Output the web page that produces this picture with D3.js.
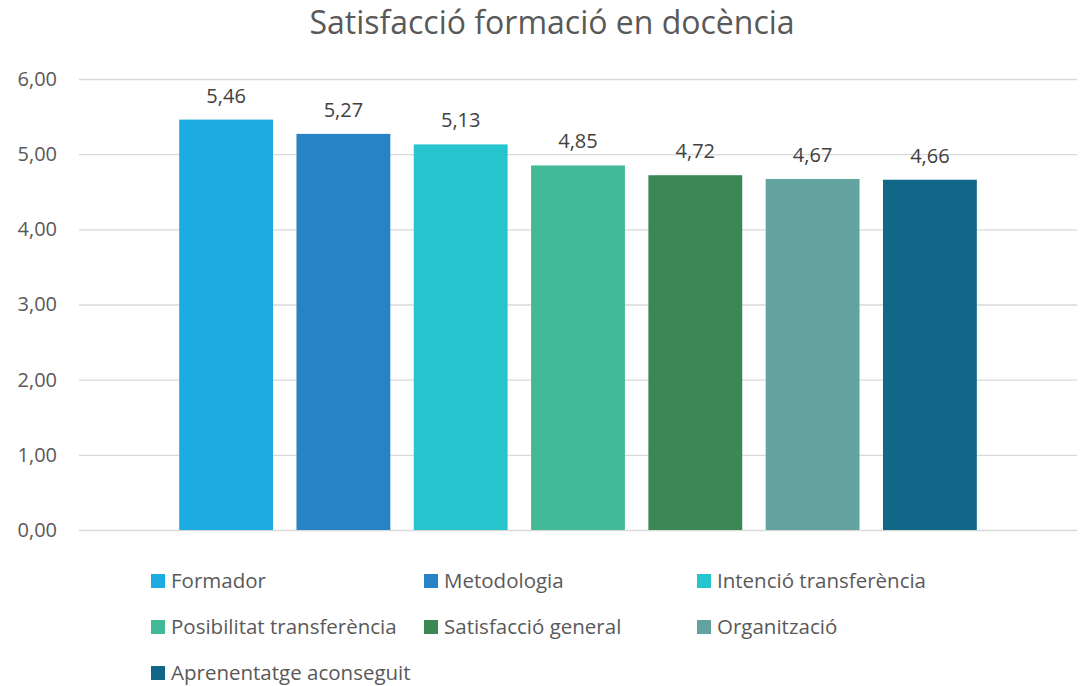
<!DOCTYPE html>
<html>
<head>
<meta charset="utf-8">
<script src="https://cdn.jsdelivr.net/npm/d3@7"></script>
<style>
  body { margin: 0; background: #fff; }
  svg { display: block; font-family: "Open Sans", sans-serif; }
</style>
</head>
<body>
<svg width="1082" height="686"></svg>
<script>
// Chart data
const categories = ["Formador", "Metodologia", "Intenció transferència", "Posibilitat transferència",
                    "Satisfacció general", "Organització", "Aprenentatge aconseguit"];
const values = [5.46, 5.27, 5.13, 4.85, 4.72, 4.67, 4.66];
const colors = ["#1dace2", "#2783c6", "#26c4cc", "#42ba97", "#3c8855", "#62a39f", "#106787"];
const yTicks = [0, 1, 2, 3, 4, 5, 6];
const title = "Satisfacció formació en docència";

const svg = d3.select("svg");
const plot = { left: 79, right: 1077, top: 79, bottom: 530 };

const fmt = d => d.toFixed(2).replace(".", ",");

// Scales
const xScale = d3.scaleBand()
                 .domain(categories)
                 .range([plot.left, plot.right])
                 .paddingInner(0.2)
                 .paddingOuter(0.854);
const yScale = d3.scaleLinear()
                 .domain([0, 6])
                 .range([plot.bottom, plot.top]);

// Title
svg.append("text")
   .attr("x", 552)
   .attr("y", 34)
   .attr("text-anchor", "middle")
   .style("font-size", "32px")
   .style("fill", "#595959")
   .text(title);

// Gridlines + y labels
const yAxis = svg.append("g")
                 .attr("transform", `translate(${plot.left},0)`)
                 .call(d3.axisLeft(yScale).tickValues(yTicks).tickFormat(fmt)
                         .tickSize(-(plot.right - plot.left)).tickPadding(22));
yAxis.select(".domain").remove();
yAxis.selectAll("line").style("stroke", "#d9d9d9").style("stroke-width", 1.3);
yAxis.selectAll("text")
     .style("font-size", "20px")
     .style("font-family", "Open Sans")
     .style("fill", "#595959");

// Bars
svg.append("g")
   .selectAll("rect")
   .data(values)
   .join("rect")
   .attr("x", (d, i) => xScale(categories[i]))
   .attr("y", d => yScale(d))
   .attr("width", xScale.bandwidth())
   .attr("height", d => yScale(0) - yScale(d))
   .attr("fill", (d, i) => colors[i]);

// Value labels
svg.append("g")
   .selectAll("text")
   .data(values)
   .join("text")
   .attr("x", (d, i) => xScale(categories[i]) + xScale.bandwidth() / 2)
   .attr("y", d => yScale(d) - 17)
   .attr("text-anchor", "middle")
   .style("font-size", "20px")
   .style("fill", "#404040")
   .text(fmt);

// Legend: 3 columns
const legend = svg.append("g");
const legendItems = legend.selectAll("g")
                          .data(categories)
                          .join("g")
                          .attr("transform", (d, i) => `translate(${151 + (i % 3) * 273}, ${581 + Math.floor(i / 3) * 46})`);
legendItems.append("rect")
           .attr("x", 0)
           .attr("y", -7)
           .attr("width", 14)
           .attr("height", 14)
           .attr("fill", (d, i) => colors[i]);
legendItems.append("text")
           .attr("x", 20)
           .attr("y", 0)
           .attr("dy", "0.35em")
           .style("font-size", "20.5px")
           .style("fill", "#595959")
           .text(d => d);
</script>
</body>
</html>
